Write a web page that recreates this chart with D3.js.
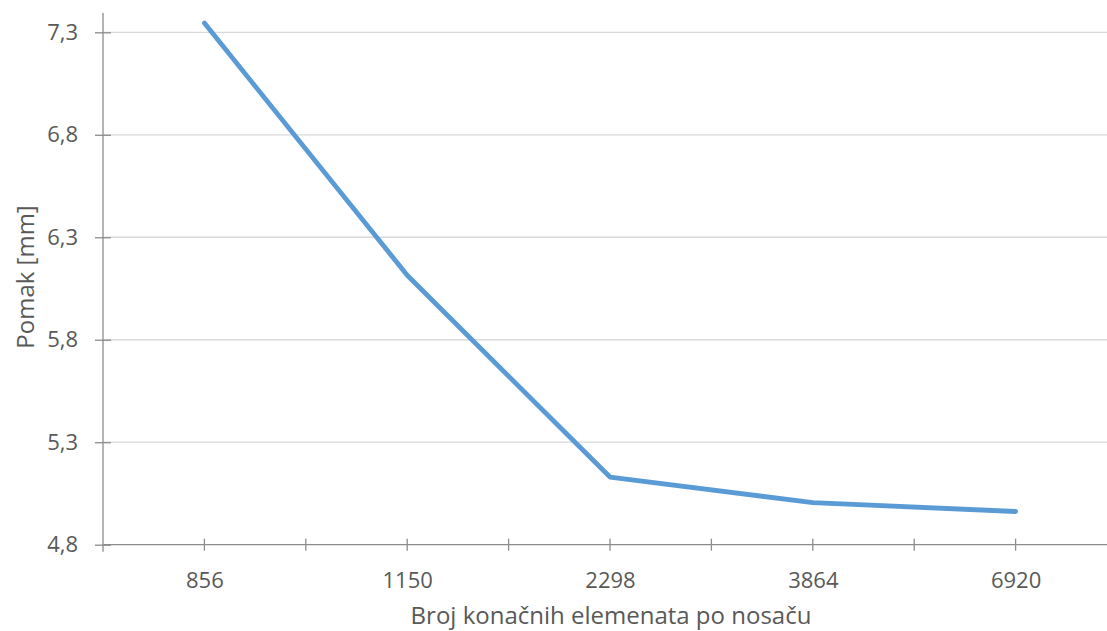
<!DOCTYPE html>
<html><head><meta charset="utf-8">
<script src="https://cdn.jsdelivr.net/npm/d3@7"></script>
<style>body{margin:0;background:#fff}svg{display:block}</style>
</head><body>
<svg id="c" width="1107" height="631"></svg>
<script>
const categories = ["856", "1150", "2298", "3864", "6920"];
const values = [7.345, 6.115, 5.13, 5.005, 4.962];
const yTicks = [4.8, 5.3, 5.8, 6.3, 6.8, 7.3];
const xTitle = "Broj konačnih elemenata po nosaču";
const yTitle = "Pomak [mm]";

(function(){
const svg = d3.select("#c");
const font = "'Open Sans', 'Noto Sans', sans-serif";
const pLeft = 103, pRight = 1117, pTop = 32.3, pBottom = 544.7;
const band = (pRight - pLeft) / categories.length;
const x = d3.scalePoint().domain(categories).range([pLeft + band/2, pRight - band/2]);
const y = d3.scaleLinear().domain([4.8, 7.3]).range([pBottom, pTop]);

// gridlines
svg.append("g").selectAll("line").data(yTicks.slice(1)).join("line")
  .attr("x1", pLeft).attr("x2", 1107).attr("y1", d => y(d)).attr("y2", d => y(d))
  .attr("stroke", "#d9d9d9").attr("stroke-width", 1.3);

// y axis
const ya = svg.append("g").attr("transform", `translate(${pLeft},0)`)
  .call(d3.axisLeft(y).tickValues(yTicks).tickSize(8).tickFormat(d => d3.format(".1f")(d).replace(".", ",")));
ya.select(".domain").remove();
ya.selectAll(".tick line").attr("stroke", "#8c8c8c").attr("stroke-width", 1.3).attr("x2", 8).attr("x1", -8);
ya.selectAll(".tick text").attr("x", -25).attr("fill", "#595959").style("font-family", font).style("font-size", "22px");
svg.append("line").attr("x1", pLeft).attr("x2", pLeft).attr("y1", 13).attr("y2", pBottom + 7)
  .attr("stroke", "#8c8c8c").attr("stroke-width", 1.3);

// x axis
const xa = svg.append("g").attr("transform", `translate(0,${pBottom})`)
  .call(d3.axisBottom(x).tickSize(0).tickPadding(28));
xa.select(".domain").remove();
xa.selectAll(".tick text").attr("fill", "#595959").style("font-family", font).style("font-size", "22px");
svg.append("line").attr("x1", pLeft).attr("x2", 1107).attr("y1", pBottom).attr("y2", pBottom)
  .attr("stroke", "#8c8c8c").attr("stroke-width", 1.3);
const tickPos = [];
categories.forEach((c, i) => { tickPos.push(x(c)); if (i < categories.length - 1) tickPos.push((x(c) + x(categories[i+1])) / 2); });
svg.append("g").selectAll("line").data(tickPos).join("line")
  .attr("x1", d => d).attr("x2", d => d).attr("y1", pBottom - 6).attr("y2", pBottom + 6)
  .attr("stroke", "#8c8c8c").attr("stroke-width", 1.3);

// line
svg.append("path").datum(values)
  .attr("d", d3.line().x((d, i) => x(categories[i])).y(d => y(d)))
  .attr("fill", "none").attr("stroke", "#5b9bd5").attr("stroke-width", 4.8)
  .attr("stroke-linecap", "round").attr("stroke-linejoin", "round");

// titles
svg.append("text").attr("x", 611).attr("y", 624).attr("text-anchor", "middle")
  .attr("fill", "#595959").style("font-family", font).style("font-size", "24px").text(xTitle);
svg.append("text").attr("transform", "translate(34,277) rotate(-90)").attr("text-anchor", "middle")
  .attr("fill", "#595959").style("font-family", font).style("font-size", "24px").text(yTitle);
})();
</script>
</body></html>
